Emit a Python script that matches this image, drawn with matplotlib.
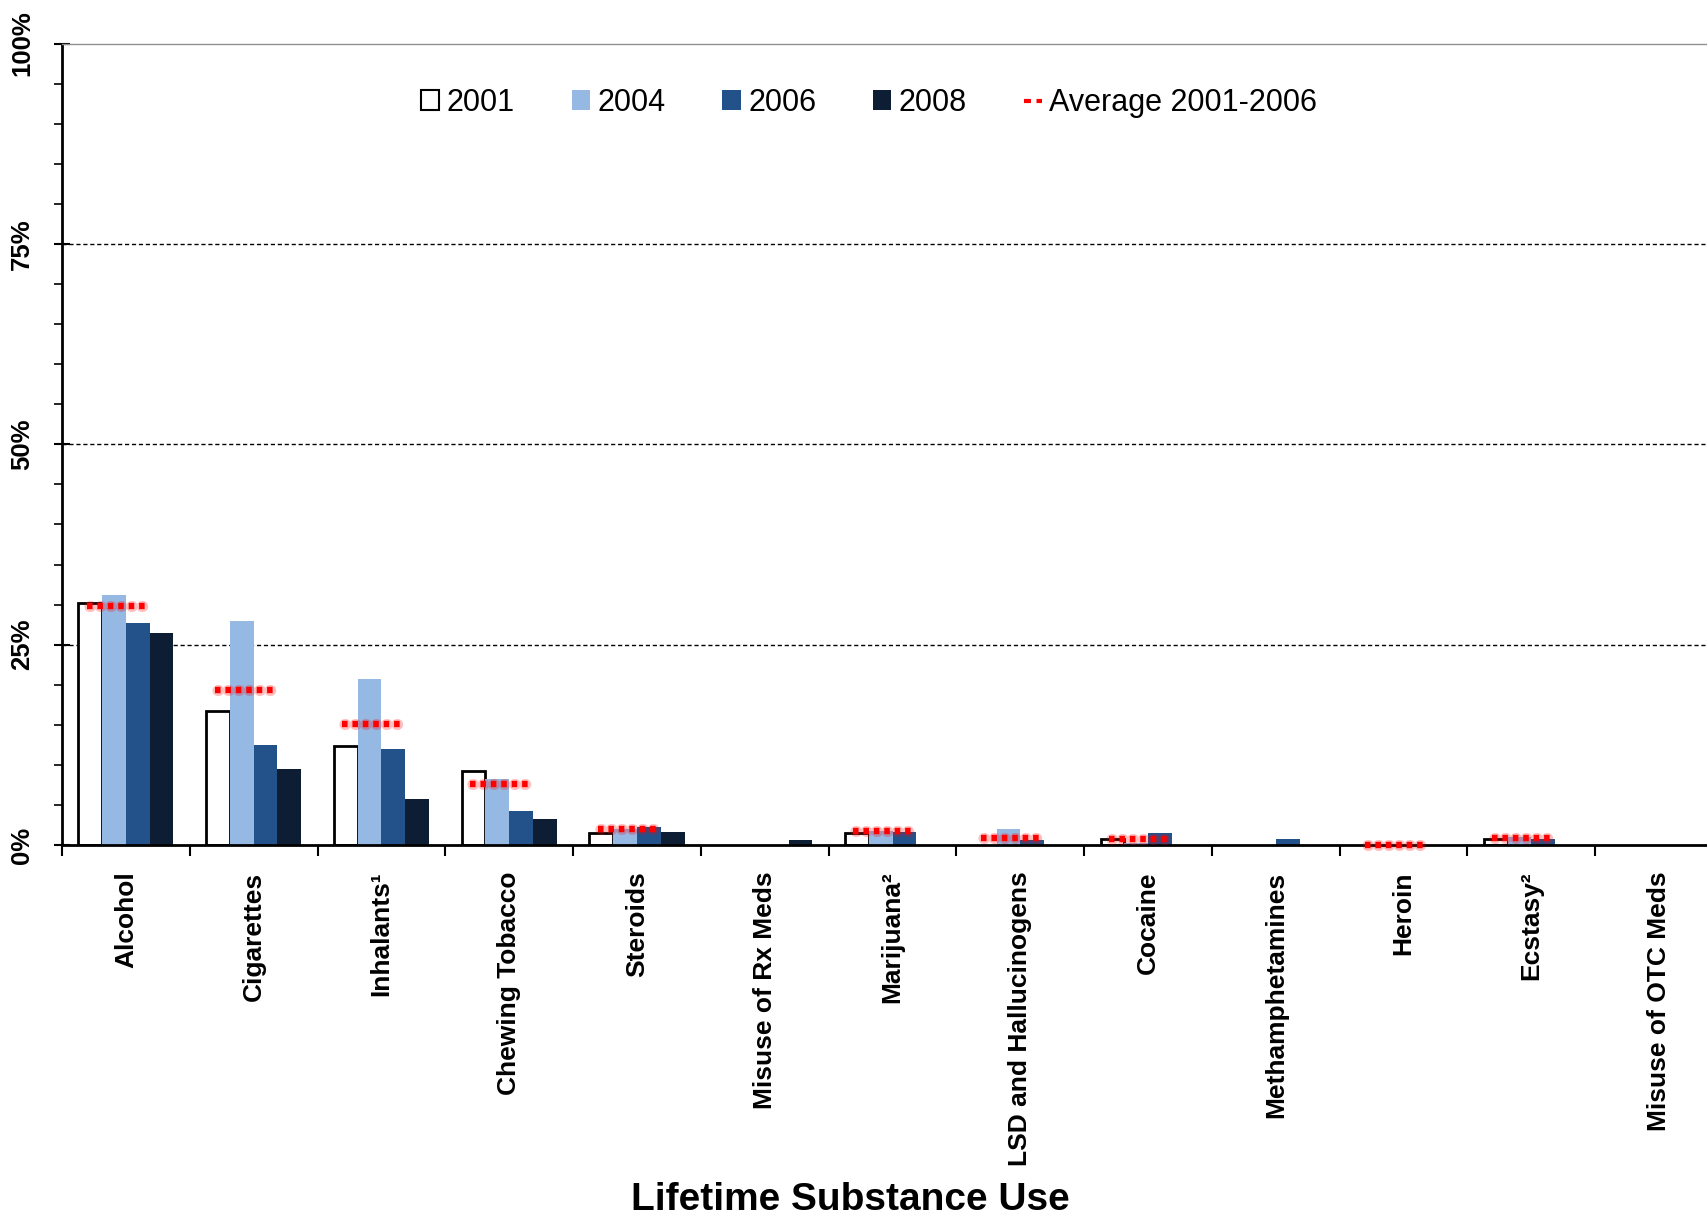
import numpy as np
import matplotlib
matplotlib.use("Agg")
from matplotlib import pyplot as plt
from matplotlib.patches import Patch
from matplotlib.lines import Line2D
from matplotlib.ticker import MultipleLocator, FixedLocator, PercentFormatter

plt.rcParams['font.family'] = ['Liberation Sans', 'DejaVu Sans']
plt.rcParams['lines.scale_dashes'] = False

nan = np.nan
categories = ["Alcohol", "Cigarettes", "Inhalants¹", "Chewing Tobacco", "Steroids",
              "Misuse of Rx Meds", "Marijuana²", "LSD and Hallucinogens", "Cocaine",
              "Methamphetamines", "Heroin", "Ecstasy²", "Misuse of OTC Meds"]
y2001 = [30.2, 16.7, 12.4, 9.2, 1.5, nan, 1.5, nan, 0.7, nan, nan, 0.7, nan]
y2004 = [31.2, 27.9, 20.7, 8.2, 2.0, nan, 1.7, 2.0, 0.2, nan, nan, 1.0, nan]
y2006 = [27.7, 12.5, 12.0, 4.3, 2.3, nan, 1.6, 0.6, 1.5, 0.8, nan, 0.8, nan]
y2008 = [26.5, 9.5, 5.8, 3.3, 1.6, 0.6, nan, nan, nan, nan, nan, nan, nan]
avg_01_06 = [29.8, 19.3, 15.1, 7.6, 2.0, nan, 1.8, 0.9, 0.8, nan, 0.0, 0.9, nan]

years = ["2001", "2004", "2006", "2008"]
colors = ["white", "#96B9E3", "#23528A", "#0D1D33"]

fig = plt.figure(figsize=(17.08, 12.15), dpi=100)
ax = fig.add_axes([0.0363, 0.3045, 0.9725, 0.6596])

n = len(categories)
x = np.arange(n) + 0.5
w = 0.186
series = [y2001, y2004, y2006, y2008]
for k, (vals, c) in enumerate(zip(series, colors)):
    xs = x + (k - 1.5) * w
    if k == 0:
        ax.bar(xs, vals, w, color=c, edgecolor="black", linewidth=2, zorder=3)
    else:
        ax.bar(xs, vals, w, color=c, edgecolor="none", zorder=3)

# average 2001-2006: six red dots with a soft glow round each one
for xi, a in zip(x, avg_01_06):
    if np.isnan(a):
        continue
    x0 = xi - 1.5 * w - 0.027
    x1 = x0 + 0.455
    ax.plot([x0, x1], [a, a], color="red", lw=8, alpha=0.25,
            ls=(5.75, (0.5, 7.0)), dash_capstyle="round", zorder=4, clip_on=False)
    ax.plot([x0, x1], [a, a], color="red", lw=4.6, ls=(0, (4.0, 3.5)),
            dash_capstyle="butt", zorder=5, clip_on=False)

ax.set_xlim(0, n)
ax.set_ylim(0, 100)

# y axis
ax.yaxis.set_major_locator(MultipleLocator(25))
ax.yaxis.set_minor_locator(MultipleLocator(5))
ax.yaxis.set_major_formatter(PercentFormatter(decimals=0))
ax.tick_params(axis="y", which="major", direction="inout", length=12, width=1.5,
               pad=14, labelsize=18.5, labelrotation=90)
ax.tick_params(axis="y", which="minor", direction="out", length=6, width=1.2)
for lab in ax.get_yticklabels():
    lab.set_fontweight("bold")
    lab.set_va("center")

for yv in (25, 50, 75):
    ax.axhline(yv, color="black", lw=1, ls=(0, (3, 2)), zorder=1)

# x axis: boundaries as major ticks, labels at centres
ax.xaxis.set_major_locator(FixedLocator(np.arange(n + 1)))
ax.xaxis.set_major_formatter(plt.NullFormatter())
ax.set_xticks(x, categories, minor=True, rotation=90, fontweight="bold",
              va="top", ha="center")
ax.tick_params(axis="x", which="major", direction="out", length=8, width=1.5)
ax.tick_params(axis="x", which="minor", length=0, pad=19, labelsize=19)

ax.spines["left"].set_linewidth(2)
ax.spines["bottom"].set_linewidth(2)
ax.spines["bottom"].set_zorder(3.5)
ax.spines["top"].set_color("#909090")
ax.spines["top"].set_linewidth(1)
ax.spines["right"].set_visible(False)

handles = [Patch(facecolor=c, edgecolor="black" if c == "white" else "none",
                 linewidth=1.5, label=y) for c, y in zip(colors, years)]
handles.append(Line2D([0], [0], color="red", lw=3, dashes=(5, 4),
                      label="Average 2001-2006"))
ax.legend(handles=handles, loc="center", bbox_to_anchor=(0.486, 0.926), ncol=5,
          frameon=False, fontsize=22, handlelength=0.6, handleheight=0.6,
          handletextpad=0.25, columnspacing=1.85)

fig.text(850 / 1708, 0.012, "Lifetime Substance Use", ha="center", va="center",
         fontsize=28, fontweight="bold")

fig.savefig("out.png", dpi=100)
